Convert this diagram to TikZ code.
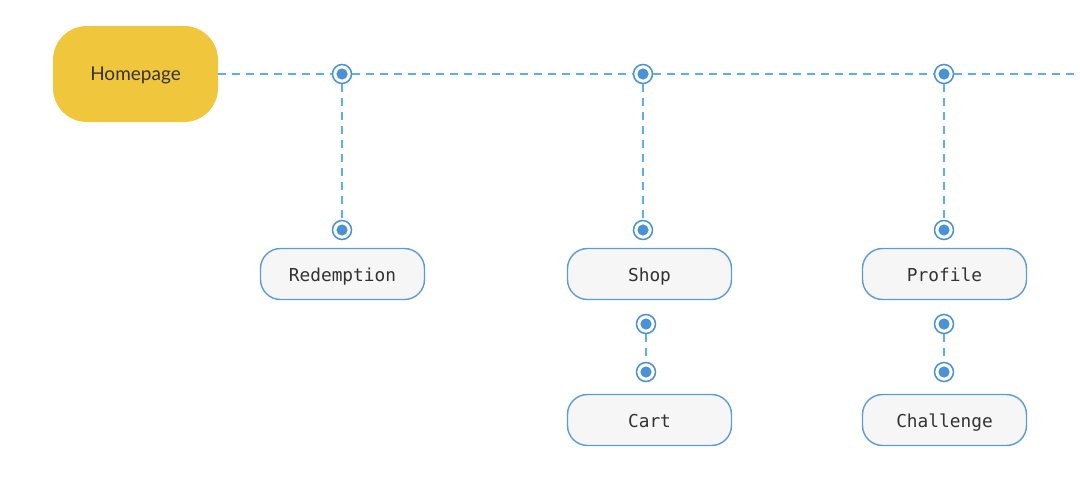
\documentclass[tikz,border=0pt]{standalone}
\usepackage{fontspec}
\setmainfont{Lato}
\newfontfamily\monof{DejaVu Sans Mono}
\definecolor{homefill}{HTML}{F0C73C}
\definecolor{boxfill}{HTML}{F6F6F6}
\definecolor{boxline}{HTML}{5B9BD8}
\definecolor{dashline}{HTML}{5DAEEA}
\definecolor{dotblue}{HTML}{4A92D6}
\definecolor{txt}{HTML}{333333}
\begin{document}
\begin{tikzpicture}[x=1pt,y=-1pt,
  home/.style={fill=homefill,rounded corners=34pt,minimum width=165pt,minimum height=96pt,inner sep=0pt,text=txt,text height=15pt,text depth=2pt,font=\fontsize{19}{22}\selectfont},
  pagebox/.style={draw=boxline,line width=1.4pt,fill=boxfill,rounded corners=20pt,minimum width=164pt,minimum height=51pt,inner sep=0pt,text=txt,text height=16pt,text depth=2pt,font=\monof\fontsize{17.8}{20}\selectfont},
  ring/.style={circle,draw=dotblue,line width=1.5pt,fill=white,minimum size=19pt,inner sep=0pt,path picture={\fill[dotblue] (path picture bounding box.center) circle[radius=5.6pt];}},
  link/.style={draw=dashline,line width=1.3pt,dash pattern=on 8pt off 6pt}
]
\useasboundingbox (0,0) rectangle (1080,490);
\node[home] (home) at (135.5,74) {Homepage};
\node[pagebox] (red) at (342.5,274) {Redemption};
\node[pagebox] (shop) at (649.5,274) {Shop};
\node[pagebox] (prof) at (944.5,274) {Profile};
\node[pagebox] (cart) at (649.5,420) {Cart};
\node[pagebox] (chal) at (944.5,420) {Challenge};
\coordinate (lineend) at (1080,74);
\node[ring] (j1) at (342,74) {};
\node[ring] (j2) at (643,74) {};
\node[ring] (j3) at (944,74) {};
\node[ring] (t1) at (342,230) {};
\node[ring] (t2) at (643,230) {};
\node[ring] (t3) at (944,230) {};
\node[ring] (s1) at (646,324) {};
\node[ring] (s2) at (646,372) {};
\node[ring] (p1) at (944,324) {};
\node[ring] (p2) at (944,372) {};
\path[link] (home.east) -- (j1.west);
\path[link] (j1.east) -- (j2.west);
\path[link] (j2.east) -- (j3.west);
\path[link] (j3.east) -- (lineend);
\path[link] (j1.south) -- (t1.north);
\path[link] (j2.south) -- (t2.north);
\path[link] (j3.south) -- (t3.north);
\path[link] (s1.south) -- (s2.north);
\path[link] (p1.south) -- (p2.north);
\end{tikzpicture}
\end{document}
